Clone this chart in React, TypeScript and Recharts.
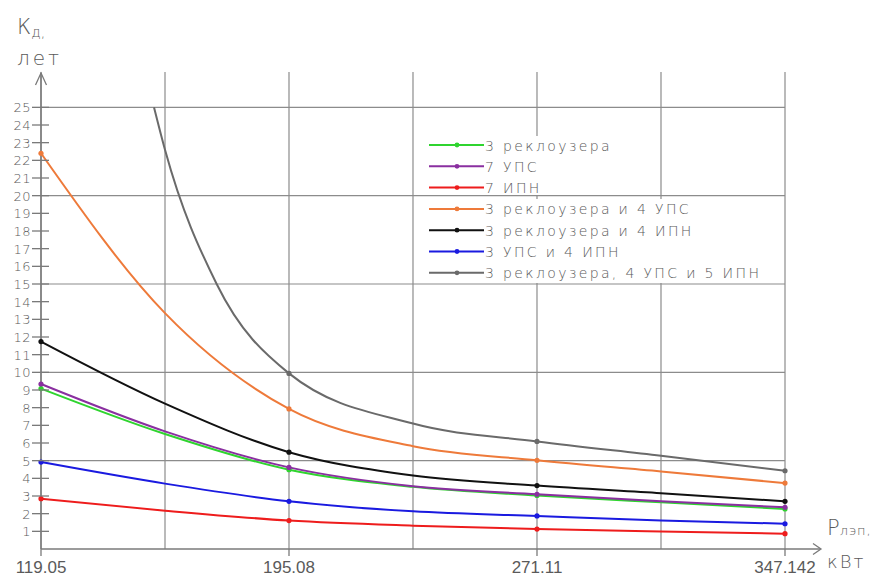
import React from 'react'
import { LineChart, Line, XAxis, YAxis, CartesianGrid, Customized } from 'recharts'

// P лэп, кВт — grid positions (every second one is labelled)
const xPoints = [119.05, 157.065, 195.08, 233.095, 271.11, 309.126, 347.142]
const xLabelled = [119.05, 195.08, 271.11, 347.142]
const yTicks = [1, 2, 3, 4, 5, 6, 7, 8, 9, 10, 11, 12, 13, 14, 15, 16, 17, 18, 19, 20, 21, 22, 23, 24, 25]
const yGrid = [5, 10, 15, 20, 25]

// Кд, лет for each configuration
const recloser3 = [9.08, 6.51, 4.49, 3.52, 3.03, 2.64, 2.27]
const ups7 = [9.34, 6.66, 4.62, 3.55, 3.1, 2.7, 2.36]
const ipn7 = [2.85, 2.17, 1.61, 1.32, 1.13, 0.99, 0.87]
const recloser3ups4 = [22.4, 13.35, 7.93, 5.82, 5.02, 4.39, 3.73]
const recloser3ipn4 = [11.74, 8.23, 5.48, 4.16, 3.59, 3.16, 2.7]
const ups3ipn4 = [4.92, 3.7, 2.7, 2.13, 1.87, 1.62, 1.43]
// the last curve leaves the grid at the top, so it has its own x points
const allXPoints = [153.7, 157.065, 172.9, 195.08, 233.095, 271.11, 309.126, 347.142]
const allThree = [25, 22.6, 15, 9.94, 7.1, 6.09, 5.28, 4.43]

const toPoints = (xs: number[], ys: number[]) => xs.map((x, i) => ({ x, y: ys[i] }))

const series = [
  { name: '3 реклоузера', color: '#2fd42f', data: toPoints(xPoints, recloser3) },
  { name: '7 УПС', color: '#8a2fa0', data: toPoints(xPoints, ups7) },
  { name: '7 ИПН', color: '#ee1c1c', data: toPoints(xPoints, ipn7) },
  { name: '3 реклоузера и 4 УПС', color: '#ee7a3a', data: toPoints(xPoints, recloser3ups4) },
  { name: '3 реклоузера и 4 ИПН', color: '#111111', data: toPoints(xPoints, recloser3ipn4) },
  { name: '3 УПС и 4 ИПН', color: '#1a1ae0', data: toPoints(xPoints, ups3ipn4) },
  { name: '3 реклоузера, 4 УПС и 5 ИПН', color: '#6a6a6a', data: toPoints(allXPoints, allThree) },
]

const FONT = "'DejaVu Sans', sans-serif"
const TEXT = '#5a5a5a'
const AXIS = '#7a7a7a'

const dotAtLabels = (color: string) => (props: any) => {
  const { cx, cy, payload, index } = props
  if (!xLabelled.includes(payload.x)) return <g key={index} />
  return <circle key={index} cx={cx} cy={cy} r={2.6} fill={color} stroke="none" />
}

const YTick = (props: any) => {
  const { x, y, payload } = props
  return (
    <g>
      <line x1={x - 9} x2={x + 8} y1={y} y2={y} stroke={AXIS} strokeWidth={1.3} />
      <text x={x - 10} y={y + 5} textAnchor="end" fontSize={13} fontFamily={FONT} fontWeight={200} fill={TEXT} letterSpacing={0.5}>
        {payload.value}
      </text>
    </g>
  )
}

const XTick = (props: any) => {
  const { x, y, payload } = props
  if (!xLabelled.includes(payload.value)) return <g />
  return (
    <g>
      <line x1={x} x2={x} y1={y} y2={y + 7} stroke={AXIS} strokeWidth={1.3} />
      <text x={x} y={y + 24} textAnchor="middle" fontSize={17} fontFamily="'Liberation Sans Narrow', 'Liberation Sans', sans-serif" fill={TEXT}>
        {payload.value}
      </text>
    </g>
  )
}

const Decorations = () => {
  const rowY = (i: number) => 145 + i * 21.3
  return (
    <g>
      {/* axes with arrows */}
      <line x1={41} x2={41} y1={549} y2={73} stroke={AXIS} strokeWidth={1.5} />
      <polyline points="35.5,85 41,73 46.5,85" fill="none" stroke={AXIS} strokeWidth={1.3} />
      <line x1={41} x2={820} y1={549} y2={549} stroke={AXIS} strokeWidth={1.5} />
      <polyline points="813,543.5 821,549 813,554.5" fill="none" stroke={AXIS} strokeWidth={1.3} />

      {/* axis titles */}
      <text x={17} y={34} fontSize={21} fontFamily={FONT} fontWeight={200} fill={TEXT}>
        К<tspan fontSize={14} dy={3}>д,</tspan>
      </text>
      <text x={17} y={65} fontSize={20} fontFamily={FONT} fontWeight={200} fill={TEXT} letterSpacing={3}>лет</text>
      <text x={827} y={535} fontSize={21} fontFamily={FONT} fontWeight={200} fill={TEXT}>
        P<tspan fontSize={13} letterSpacing={1}>лэп,</tspan>
      </text>
      <text x={827} y={568} fontSize={18} fontFamily={FONT} fontWeight={200} fill={TEXT} letterSpacing={2}>кВт</text>

      {/* legend */}
      <rect x={424} y={136} width={224} height={59} fill="#fff" />
      <rect x={424} y={199} width={352} height={84} fill="#fff" />
      {series.map((s, i) => (
        <g key={s.name}>
          <line x1={429} x2={484} y1={rowY(i)} y2={rowY(i)} stroke={s.color} strokeWidth={2} />
          <circle cx={457} cy={rowY(i)} r={2.4} fill={s.color} />
          <text x={485} y={rowY(i) + 5.5} fontSize={14} fontFamily={FONT} fontWeight={200} fill={TEXT} letterSpacing={2.35}>
            {s.name}
          </text>
        </g>
      ))}
    </g>
  )
}

export default function App() {
  return (
    <div style={{ position: 'absolute', left: 0, top: 0, background: '#fff' }}>
      <LineChart width={893} height={578} margin={{ top: 72, right: 108, bottom: 0, left: 0 }}>
        <CartesianGrid
          stroke="#8c8c8c"
          strokeWidth={1.2}
          horizontalValues={yGrid}
          verticalValues={xPoints}
        />
        <XAxis
          type="number"
          dataKey="x"
          domain={[119.05, 347.142]}
          ticks={xPoints}
          height={29}
          axisLine={false}
          tickLine={false}
          tickSize={0}
          tickMargin={0}
          tick={<XTick />}
          interval={0}
          allowDuplicatedCategory={false}
        />
        <YAxis
          type="number"
          domain={[0, 27]}
          ticks={yTicks}
          width={41}
          axisLine={false}
          tickLine={false}
          tickSize={0}
          tickMargin={0}
          tick={<YTick />}
          interval={0}
        />
        {series.map(s => (
          <Line
            key={s.name}
            data={s.data}
            dataKey="y"
            type="monotone"
            stroke={s.color}
            strokeWidth={2}
            dot={dotAtLabels(s.color)}
            activeDot={false}
            isAnimationActive={false}
          />
        ))}
        <Customized component={Decorations} />
      </LineChart>
    </div>
  )
}
